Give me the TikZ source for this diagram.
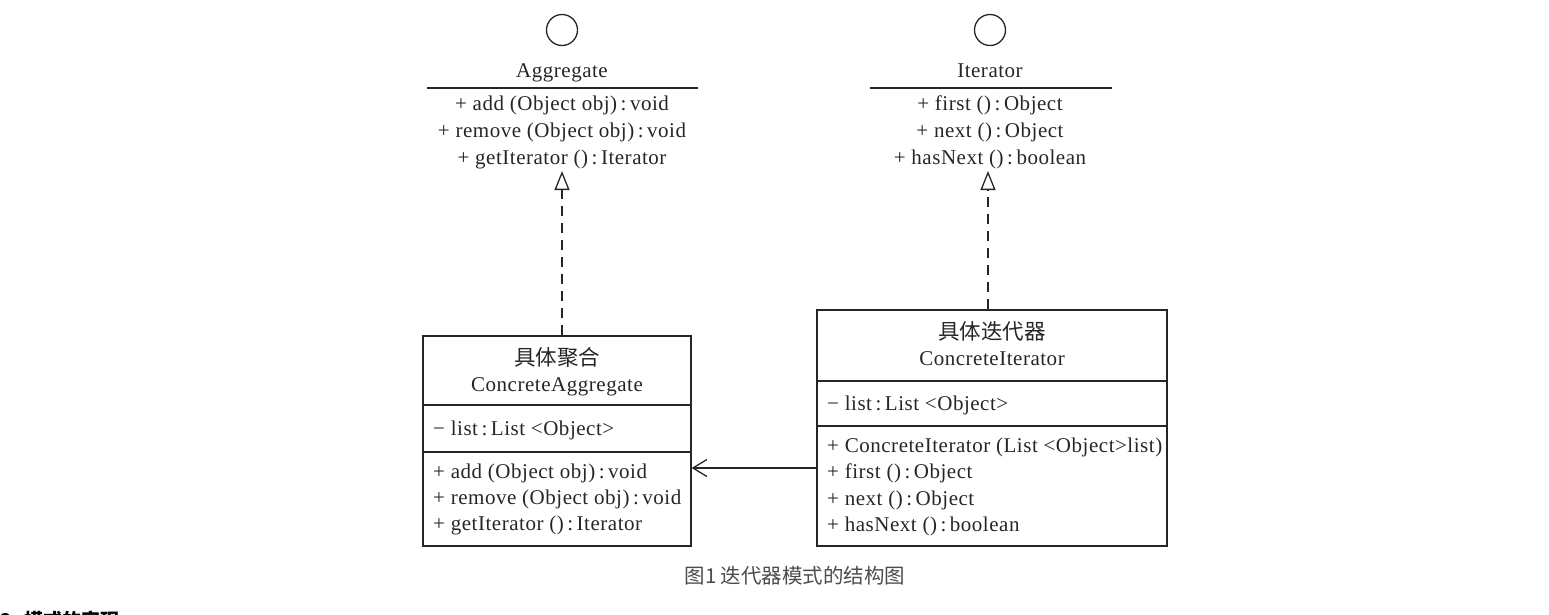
\documentclass[tikz,border=0pt]{standalone}
\usepackage{fontspec}
\setmainfont{Liberation Serif}[LetterSpace=2.5]
\newfontfamily\cjk{Noto Sans CJK SC}
\usetikzlibrary{arrows.meta}
\begin{document}
\begin{tikzpicture}[x=1pt,y=-1pt,
  lw/.style={line width=1.3pt, draw=black!85},
  txt/.style={font=\fontsize{21}{24}\selectfont, inner sep=0pt, anchor=base, text=black!85},
  ltxt/.style={txt, anchor=base west},
  ttl/.style={font=\cjk\fontsize{21.5}{24}\selectfont, inner sep=0pt, anchor=base, text=black!85},
  ifc/.style={circle, lw, minimum size=31pt, inner sep=0pt},
  boxr/.style={rectangle, lw, inner sep=0pt},
  realize/.style={lw, dash pattern=on 10pt off 7pt, -{Triangle[open,length=19pt,width=15pt,line width=1.3pt]}},
  assoc/.style={lw, -{Straight Barb[length=14pt,width=17pt,line width=1.3pt]}}
]
\useasboundingbox (0,0) rectangle (1549,614);
% ---------- Aggregate interface ----------
\node[ifc] (aggc) at (562,30) {};
\node[txt] (aggn) at (562,77) {Aggregate};
\draw[lw] (427,88) coordinate (agl) -- (698,88) coordinate (agr);
\node[txt] (agg1) at (562,110) {+ add (Object obj)\,:\,void};
\node[txt] (agg2) at (562,137) {+ remove (Object obj)\,:\,void};
\node[txt] (agg3) at (562,164) {+ getIterator ()\,:\,Iterator};
\coordinate (aggtip) at (562,171);
% ---------- Iterator interface ----------
\node[ifc] (itc) at (990,30) {};
\node[txt] (itn) at (990,77) {Iterator};
\draw[lw] (870,88) coordinate (itl) -- (1112,88) coordinate (itr);
\node[txt] (it1) at (990,110) {+ first ()\,:\,Object};
\node[txt] (it2) at (990,137) {+ next ()\,:\,Object};
\node[txt] (it3) at (990,164) {+ hasNext ()\,:\,boolean};
\coordinate (ittip) at (988,171);
% ---------- ConcreteAggregate ----------
\node[boxr, minimum width=268pt, minimum height=210pt] (cagg) at (557,441) {};
\node[ttl] (cagg0) at (557,365) {具体聚合};
\node[txt] (cagg1) at (557,391) {ConcreteAggregate};
\draw[lw] (cagg.west |- 0,405) -- (cagg.east |- 0,405);
\node[ltxt] (caggA) at (433,435) {− list\,:\,List <Object>};
\draw[lw] (cagg.west |- 0,452) -- (cagg.east |- 0,452);
\node[ltxt] (caggm1) at (433,478) {+ add (Object obj)\,:\,void};
\node[ltxt] (caggm2) at (433,504) {+ remove (Object obj)\,:\,void};
\node[ltxt] (caggm3) at (433,530) {+ getIterator ()\,:\,Iterator};
% ---------- ConcreteIterator ----------
\node[boxr, minimum width=350pt, minimum height=236pt] (cit) at (992,428) {};
\node[ttl] (cit0) at (992,339) {具体迭代器};
\node[txt] (cit1) at (992,365) {ConcreteIterator};
\draw[lw] (cit.west |- 0,381) -- (cit.east |- 0,381);
\node[ltxt] (citA) at (827,410) {− list\,:\,List <Object>};
\draw[lw] (cit.west |- 0,426) -- (cit.east |- 0,426);
\node[ltxt] (citm1) at (827,452) {+ ConcreteIterator (List <Object>list)};
\node[ltxt] (citm2) at (827,478) {+ first ()\,:\,Object};
\node[ltxt] (citm3) at (827,505) {+ next ()\,:\,Object};
\node[ltxt] (citm4) at (827,531) {+ hasNext ()\,:\,boolean};
% ---------- connectors ----------
\draw[realize] (aggtip |- cagg.north) -- (aggtip);
\draw[realize] (ittip |- cit.north) -- (ittip);
\draw[assoc] (cit.west |- 0,468) -- (cagg.east |- 0,468);
% ---------- caption ----------
\node[font=\cjk\fontsize{20.5}{24}\selectfont, text=black!70, inner sep=0pt, anchor=base] (cap) at (795,583) {图1 迭代器模式的结构图};
\begin{scope}
\clip (0,0) rectangle (1549,614);
\node[font=\cjk\bfseries\fontsize{19}{22}\selectfont, inner sep=0pt, anchor=base west] (sec) at (0,627) {2. 模式的实现};
\end{scope}
\end{tikzpicture}
\end{document}
